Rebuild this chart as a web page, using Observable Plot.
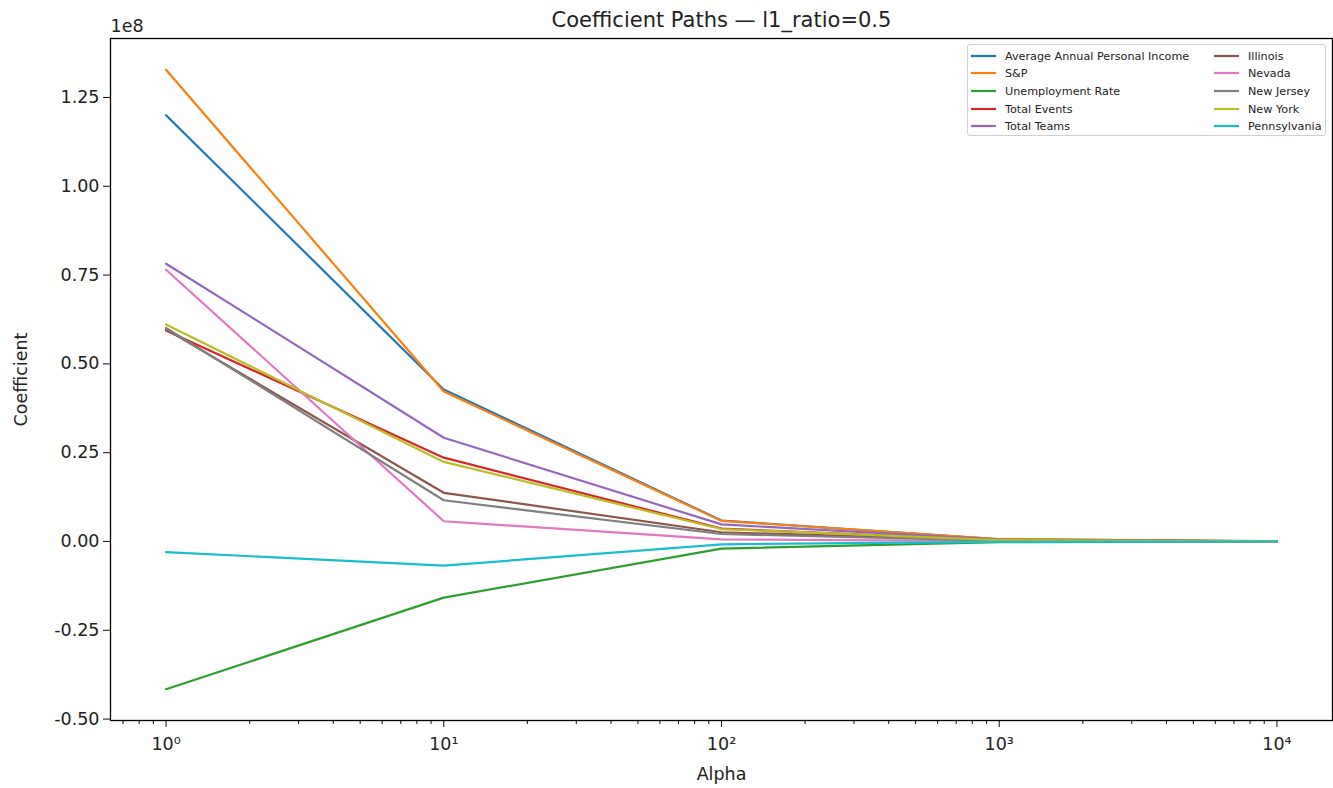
<!DOCTYPE html>
<html>
<head>
<meta charset="utf-8">
<script src="https://cdn.jsdelivr.net/npm/d3@7"></script>
<script src="https://cdn.jsdelivr.net/npm/@observablehq/plot@0.6"></script>
<style>
  html, body { margin: 0; padding: 0; background: #fff; }
  body { font-family: "DejaVu Sans", sans-serif; }
  #wrap { position: relative; width: 1333px; height: 788px; }
  #legend {
    position: absolute; left: 967px; top: 44px; width: 359px; height: 92px;
    border: 1px solid #d0d0d0; border-radius: 3px; background: rgba(255,255,255,0.8);
    box-sizing: border-box; font-size: 11.2px; color: #222;
  }
  .item { position: absolute; height: 18px; display: flex; align-items: center; white-space: nowrap; }
  .sw { display: block; width: 25px; height: 18px; margin-right: 9px; }
</style>
</head>
<body>
<div id="wrap"><div id="legend"></div></div>
<script>
const alphas = [1, 10, 100, 1000, 10000];
const features = ["Average Annual Personal Income", "S&P", "Unemployment Rate", "Total Events", "Total Teams",
                  "Illinois", "Nevada", "New Jersey", "New York", "Pennsylvania"];
const colors = ["#1f77b4", "#ff7f0e", "#2ca02c", "#d62728", "#9467bd", "#8c564b", "#e377c2", "#7f7f7f", "#bcbd22", "#17becf"];
// coefficients (units of 1e8) per feature at alphas 1, 10, 100, 1000, 10000
const avgIncome   = [1.200, 0.428, 0.059, 0.006, 0.0006];
const sp          = [1.328, 0.422, 0.058, 0.007, 0.0007];
const unemp       = [-0.416, -0.158, -0.020, -0.002, -0.0002];
const totalEvents = [0.594, 0.236, 0.036, 0.004, 0.0004];
const totalTeams  = [0.782, 0.292, 0.048, 0.005, 0.0005];
const illinois    = [0.597, 0.137, 0.026, 0.003, 0.0003];
const nevada      = [0.765, 0.057, 0.006, 0.001, 0.0001];
const newJersey   = [0.601, 0.116, 0.021, 0.002, 0.0002];
const newYork     = [0.611, 0.224, 0.035, 0.004, 0.0004];
const pennsylvania= [-0.030, -0.068, -0.008, -0.001, -0.0001];
const series = [avgIncome, sp, unemp, totalEvents, totalTeams, illinois, nevada, newJersey, newYork, pennsylvania];
const majorTicks = [1, 10, 100, 1000, 10000];
const yTicks = [-0.5, -0.25, 0, 0.25, 0.5, 0.75, 1.0, 1.25];
const scaleExp = 1e8;

const data = [];
features.forEach((f, i) => alphas.forEach((a, j) => data.push({feature: f, alpha: a, coef: series[i][j] * scaleExp})));

const minorTicks = [];
for (let k = -1; k <= 4; k++) for (let d = 2; d <= 9; d++) {
  const v = d * Math.pow(10, k);
  if (v > Math.pow(10, -0.2) && v < Math.pow(10, 4.2)) minorTicks.push(v);
}
const sup = {"0":"⁰","1":"¹","2":"²","3":"³","4":"⁴","-":"⁻"};
const fmtPow = d => "10" + String(Math.round(Math.log10(d))).split("").map(c => sup[c]).join("");

const chart = Plot.plot({
  width: 1333, height: 788,
  marginLeft: 110, marginRight: 1, marginTop: 38, marginBottom: 68,
  style: {fontFamily: "DejaVu Sans, sans-serif", color: "#222", background: "transparent"},
  x: {type: "log", domain: [Math.pow(10, -0.2), Math.pow(10, 4.2)]},
  y: {domain: [-0.504 * scaleExp, 1.416 * scaleExp]},
  color: {domain: features, range: colors},
  marks: [
    Plot.axisX(minorTicks, {tickSize: 4, tickFormat: () => "", strokeWidth: 1.1, label: null}),
    Plot.axisX(majorTicks, {tickSize: 7, tickPadding: 10, strokeWidth: 1.1, tickFormat: fmtPow, fontSize: 17.5,
      label: "Alpha", labelAnchor: "center", labelArrow: "none", labelOffset: 59}),
    Plot.axisY(yTicks.map(v => v * scaleExp), {tickSize: 7, tickPadding: 4, strokeWidth: 1.1, fontSize: 17.5,
      tickFormat: d => (d / scaleExp).toFixed(2),
      label: "Coefficient", labelAnchor: "center", labelArrow: "none", labelOffset: 96}),
    Plot.line(data, {x: "alpha", y: "coef", stroke: "feature", z: "feature", strokeWidth: 2.2}),
    Plot.frame({stroke: "#000", strokeWidth: 1.3}),
    Plot.text(["Coefficient Paths — l1_ratio=0.5"], {frameAnchor: "top", dy: -26, fontSize: 21, text: d => d}),
    Plot.text(["1e8"], {frameAnchor: "top-left", dy: -19, textAnchor: "start", fontSize: 17.5, text: d => d})
  ]
});
document.getElementById("wrap").prepend(chart);

const legend = document.getElementById("legend");
features.forEach((f, i) => {
  const col = i < 5 ? 0 : 1, row = i % 5;
  const el = document.createElement("div");
  el.className = "item";
  el.style.left = (col === 0 ? 3 : 246) + "px";
  el.style.top = Math.round(1.5 + row * 17.7) + "px";
  el.innerHTML = `<svg class="sw" width="25" height="18"><line x1="0" x2="25" y1="9" y2="9" stroke="${colors[i]}" stroke-width="2.2"/></svg><span></span>`;
  el.lastChild.textContent = f;
  legend.appendChild(el);
});
</script>
</body>
</html>
